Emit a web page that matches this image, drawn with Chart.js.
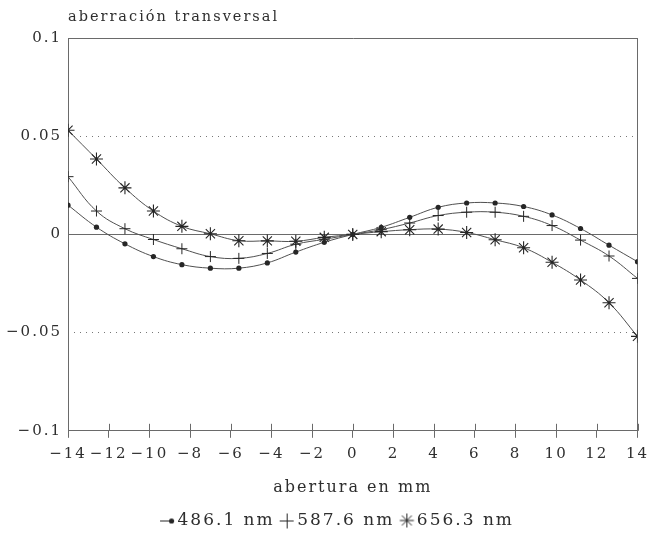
<!DOCTYPE html>
<html><head><meta charset="utf-8">
<script src="https://cdn.jsdelivr.net/npm/chart.js@4"></script>
<style>html,body{margin:0;padding:0;background:#fff}#wrap{width:651px;height:536px}</style>
</head><body><div id="wrap"><canvas id="c"></canvas></div>
<script>
const aperture = [-14,-12.6,-11.2,-9.8,-8.4,-7,-5.6,-4.2,-2.8,-1.4,0,1.4,2.8,4.2,5.6,7,8.4,9.8,11.2,12.6,14];
const series486 = [0.0149,0.0037,-0.0048,-0.0113,-0.0154,-0.0172,-0.0172,-0.0145,-0.009,-0.004,0,0.0036,0.0087,0.0138,0.016,0.016,0.0142,0.0099,0.003,-0.0055,-0.0139];
const series587 = [0.0294,0.0119,0.0029,-0.0026,-0.0073,-0.0113,-0.0122,-0.0097,-0.005,-0.0025,0,0.0024,0.0058,0.0096,0.0113,0.0113,0.0092,0.0045,-0.0029,-0.011,-0.0224];
const series656 = [0.053,0.0384,0.0237,0.0119,0.0041,0.0003,-0.0032,-0.0033,-0.0035,-0.0015,0,0.0014,0.0024,0.0027,0.001,-0.0027,-0.0068,-0.0142,-0.0232,-0.0348,-0.0519];
const seriesLabels = ['486.1 nm','587.6 nm','656.3 nm'];
const xRange = {min:-14, max:14, step:2};
const yRange = {min:-0.1, max:0.1, step:0.05};
const ySolid = [0, 0.1];
const yDotted = [-0.05, 0.05];
const yTitle = 'aberración transversal';
const xTitle = 'abertura en mm';

const textColor = '#2e2e2e', axisColor = '#6a6a6a', lineColor = '#505050', markColor = '#262626';
const fmt = v => { const r = Math.round(v*1000)/1000; return String(r).replace('-', '\u2212'); };
const near = (a,b) => Math.abs(a-b) < 1e-9;

function mk(draw){ const c=document.createElement('canvas'); c.width=30; c.height=18; const g=c.getContext('2d'); g.strokeStyle=markColor; g.fillStyle=markColor; g.lineWidth=1; draw(g); return c; }
const legendMarks = [
  mk(g=>{ g.beginPath(); g.moveTo(10,9.5); g.lineTo(21,9.5); g.stroke(); g.beginPath(); g.arc(21.5,9.5,2.6,0,Math.PI*2); g.fill(); }),
  mk(g=>{ g.beginPath(); g.moveTo(10,9.5); g.lineTo(24,9.5); g.moveTo(17.5,2); g.lineTo(17.5,17); g.stroke(); }),
  mk(g=>{ g.beginPath(); const cx=17.5, cy=9, r=7, d=r*Math.SQRT1_2; g.moveTo(cx-r,cy); g.lineTo(cx+r,cy); g.moveTo(cx,cy-r); g.lineTo(cx,cy+r); g.moveTo(cx-d,cy-d); g.lineTo(cx+d,cy+d); g.moveTo(cx-d,cy+d); g.lineTo(cx+d,cy-d); g.stroke(); })
];

const spacing = c => { c.ctx.letterSpacing = '2px'; };
const deco = {
  id:'deco',
  beforeUpdate: spacing, beforeLayout: spacing, beforeDraw: spacing, beforeRender: spacing,
  afterLayout(chart){ const lg = chart.legend; if (lg) { lg.left += 12; lg.right += 12; } },
  afterDraw(chart){
    const {ctx, chartArea:a, scales:{x}} = chart;
    ctx.save();
    ctx.strokeStyle = axisColor; ctx.lineWidth = 1;
    x.ticks.forEach(t => {
      const px = Math.round(x.getPixelForValue(t.value)) + 0.5;
      ctx.beginPath(); ctx.moveTo(px, a.bottom); ctx.lineTo(px, a.bottom - 7); ctx.stroke();
    });
    ctx.font = '14.5px "DejaVu Serif"'; ctx.fillStyle = textColor; ctx.textBaseline = 'alphabetic'; ctx.textAlign = 'left';
    ctx.letterSpacing = '2px';
    ctx.fillText(yTitle, a.left, 21);
    ctx.restore();
  }
};

Chart.defaults.font.family = '"DejaVu Serif"';
Chart.defaults.font.size = 15;
Chart.defaults.color = textColor;

const mkData = arr => aperture.map((x,i)=>({x, y:arr[i]}));
new Chart(document.getElementById('c'), {
  type:'line',
  data:{ datasets:[
    {label:seriesLabels[0], data:mkData(series486), borderColor:lineColor, borderWidth:1, tension:0.4, pointStyle:'circle', pointRadius:2.6, pointBackgroundColor:markColor, pointBorderColor:markColor, pointBorderWidth:0},
    {label:seriesLabels[1], data:mkData(series587), borderColor:lineColor, borderWidth:1, tension:0.4, pointStyle:'cross', pointRadius:5.5, pointBorderColor:markColor, pointBorderWidth:1},
    {label:seriesLabels[2], data:mkData(series656), borderColor:lineColor, borderWidth:1, tension:0.4, pointStyle:'star', pointRadius:6.5, pointBorderColor:markColor, pointBorderWidth:1.1}
  ]},
  options:{
    responsive:true, maintainAspectRatio:false, animation:false,
    layout:{ padding:{left:0, right:0, top:38, bottom:-3} },
    plugins:{
      tooltip:{enabled:false},
      legend:{ position:'bottom', labels:{ usePointStyle:true, boxWidth:8, boxHeight:17, padding:6, color:textColor, font:{size:17},
        generateLabels(chart){ const items = Chart.defaults.plugins.legend.labels.generateLabels(chart); items.forEach((it,i)=>{ it.pointStyle = legendMarks[i]; }); return items; } } }
    },
    scales:{
      x:{ type:'linear', min:xRange.min, max:xRange.max,
        ticks:{ stepSize:xRange.step, callback:fmt, padding:7, maxRotation:0, autoSkip:false },
        grid:{ color: c => (c.tick && near(c.tick.value, xRange.max)) ? axisColor : 'transparent', tickColor:axisColor, tickLength:7, lineWidth:1 },
        border:{ color:axisColor },
        title:{ display:true, text:xTitle, font:{size:16}, padding:{top:8, bottom:9} },
        afterFit: s => { s.paddingRight = 13.5; }
      },
      y:{ type:'linear', min:yRange.min, max:yRange.max,
        ticks:{ stepSize:yRange.step, callback:fmt, padding:6 },
        grid:{ color: c => (c.tick && ySolid.some(v=>near(v,c.tick.value))) ? axisColor : 'transparent', drawTicks:false, lineWidth:1 },
        border:{ color:axisColor },
        afterFit: s => { s.width = 68; }
      },
      y2:{ type:'linear', position:'left', min:yRange.min, max:yRange.max,
        ticks:{ display:false, stepSize:yRange.step },
        grid:{ color: c => (c.tick && yDotted.some(v=>near(v,c.tick.value))) ? '#777' : 'transparent', drawTicks:false, lineWidth:1 },
        border:{ display:false, dash:[1,5] },
        afterFit: s => { s.width = 0; }
      }
    }
  },
  plugins:[deco]
});
</script></body></html>
